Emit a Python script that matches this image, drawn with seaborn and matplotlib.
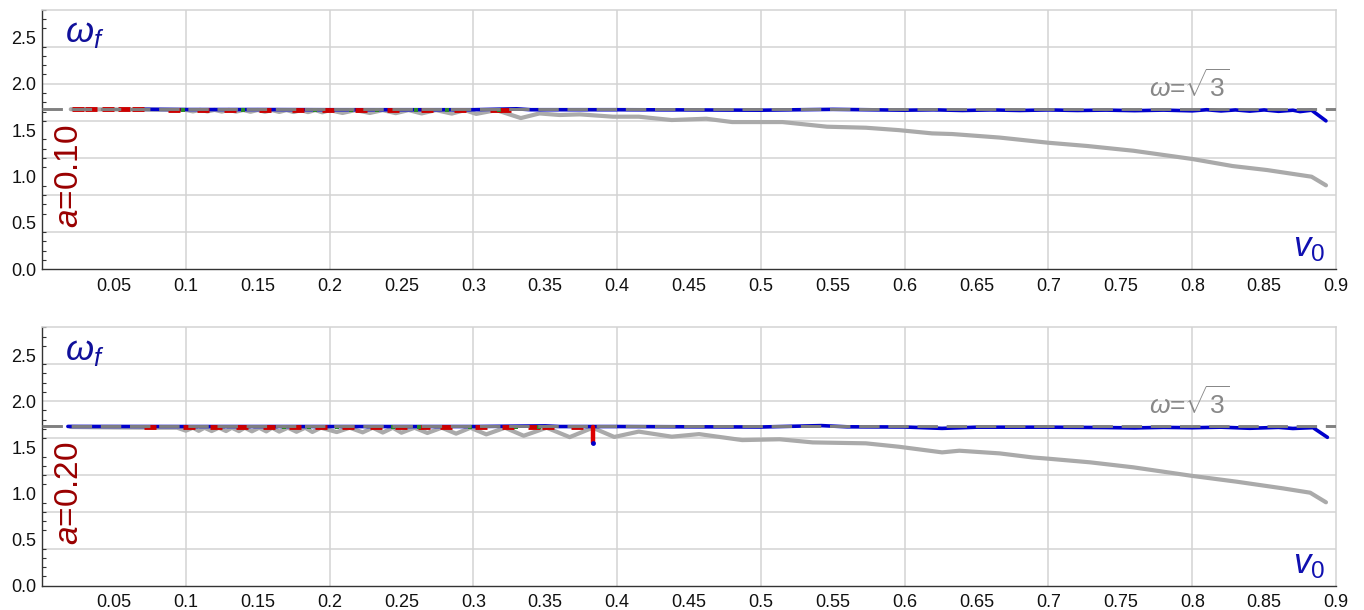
import numpy as np
import pandas as pd
import matplotlib
matplotlib.use("Agg")
import matplotlib.pyplot as plt
from matplotlib.ticker import MultipleLocator
import seaborn as sns

# values
root3 = 1.7320508

# --- a = 0.10 ---
gray_x_1 = [0.020, 0.06, 0.10, 0.105, 0.11, 0.115, 0.12, 0.125, 0.13, 0.135, 0.14, 0.145, 0.15,
            0.155, 0.16, 0.165, 0.17, 0.175, 0.18, 0.185, 0.19, 0.195, 0.200, 0.209, 0.218, 0.228,
            0.237, 0.246, 0.255, 0.264, 0.274, 0.285, 0.294, 0.302, 0.316, 0.333, 0.346, 0.360,
            0.374, 0.397, 0.415, 0.438, 0.462, 0.480, 0.515, 0.546, 0.573, 0.596, 0.619, 0.633,
            0.666, 0.700, 0.727, 0.759, 0.800, 0.828, 0.852, 0.883, 0.893]
gray_y_1 = [1.725, 1.722, 1.718, 1.702, 1.718, 1.702, 1.718, 1.700, 1.718, 1.700, 1.717, 1.698, 1.717,
            1.698, 1.716, 1.696, 1.716, 1.695, 1.716, 1.694, 1.716, 1.692, 1.716, 1.685, 1.716, 1.685,
            1.716, 1.683, 1.716, 1.680, 1.716, 1.678, 1.716, 1.675, 1.716, 1.630, 1.680, 1.663,
            1.670, 1.645, 1.645, 1.609, 1.623, 1.587, 1.587, 1.537, 1.526, 1.500, 1.465, 1.458,
            1.420, 1.364, 1.329, 1.278, 1.189, 1.113, 1.070, 0.998, 0.905]
blue_x_1 = [0.07, 0.10, 0.15, 0.20, 0.25, 0.30, 0.33, 0.34, 0.40, 0.45, 0.50, 0.55, 0.60, 0.62,
            0.64, 0.66, 0.68, 0.70, 0.72, 0.74, 0.76, 0.78, 0.80, 0.81, 0.82, 0.83, 0.84, 0.85,
            0.86, 0.87, 0.875, 0.883, 0.893]
blue_y_1 = [1.725, 1.722, 1.722, 1.720, 1.720, 1.720, 1.730, 1.720, 1.720, 1.718, 1.715, 1.724, 1.715,
            1.719, 1.712, 1.718, 1.712, 1.718, 1.712, 1.716, 1.710, 1.716, 1.708, 1.720, 1.707, 1.718,
            1.705, 1.718, 1.703, 1.715, 1.700, 1.715, 1.600]
red_x_1 = [0.025, 0.034, 0.046, 0.057, 0.067, 0.092, 0.112, 0.131, 0.155, 0.178, 0.199, 0.222,
           0.244, 0.268, 0.291, 0.316, 0.322]
red_y_1 = [1.726, 1.726, 1.726, 1.725, 1.725, 1.722, 1.722, 1.720, 1.720, 1.720, 1.718, 1.718,
           1.718, 1.718, 1.718, 1.718, 1.718]
green_x_1 = [0.098, 0.140, 0.190, 0.215, 0.233, 0.260, 0.282, 0.318]
green_y_1 = [1.722, 1.720, 1.719, 1.719, 1.719, 1.718, 1.718, 1.718]

# --- a = 0.20 ---
gray_x_2 = [0.020, 0.05, 0.08, 0.094, 0.100, 0.105, 0.109, 0.113, 0.118, 0.123, 0.128, 0.132, 0.137,
            0.141, 0.146, 0.151, 0.156, 0.160, 0.165, 0.171, 0.177, 0.183, 0.188, 0.194, 0.205,
            0.214, 0.223, 0.230, 0.237, 0.244, 0.250, 0.259, 0.268, 0.278, 0.288, 0.298, 0.309,
            0.322, 0.335, 0.351, 0.367, 0.383, 0.398, 0.415, 0.438, 0.457, 0.487, 0.513, 0.536,
            0.573, 0.596, 0.626, 0.638, 0.666, 0.689, 0.701, 0.729, 0.759, 0.800, 0.831, 0.863,
            0.882, 0.893]
gray_y_2 = [1.720, 1.715, 1.712, 1.712, 1.680, 1.712, 1.678, 1.712, 1.676, 1.712, 1.676, 1.712, 1.675,
            1.712, 1.673, 1.712, 1.672, 1.712, 1.670, 1.712, 1.668, 1.712, 1.666, 1.712, 1.665,
            1.712, 1.662, 1.712, 1.660, 1.712, 1.658, 1.712, 1.655, 1.712, 1.648, 1.712, 1.640,
            1.712, 1.625, 1.712, 1.610, 1.712, 1.612, 1.670, 1.615, 1.643, 1.578, 1.587, 1.553,
            1.543, 1.506, 1.445, 1.463, 1.434, 1.390, 1.375, 1.337, 1.283, 1.190, 1.127, 1.055,
            1.008, 0.904]
blue_x_2 = [0.018, 0.10, 0.20, 0.30, 0.35, 0.36, 0.40, 0.45, 0.50, 0.542, 0.56, 0.60, 0.626, 0.65,
            0.70, 0.74, 0.76, 0.78, 0.80, 0.82, 0.84, 0.86, 0.87, 0.884, 0.894]
blue_y_2 = [1.726, 1.725, 1.725, 1.725, 1.732, 1.725, 1.725, 1.722, 1.720, 1.735, 1.722, 1.720, 1.705,
            1.718, 1.718, 1.714, 1.710, 1.716, 1.712, 1.718, 1.706, 1.716, 1.704, 1.713, 1.608]
red_x_2 = [0.075, 0.102, 0.121, 0.139, 0.158, 0.176, 0.194, 0.213, 0.232, 0.250, 0.266, 0.281,
           0.305, 0.324, 0.342, 0.352, 0.372]
red_y_2 = [1.722, 1.722, 1.722, 1.722, 1.721, 1.721, 1.721, 1.721, 1.720, 1.720, 1.720, 1.720,
           1.720, 1.718, 1.718, 1.718, 1.718]
green_x_2 = [0.168, 0.186, 0.205, 0.244, 0.262, 0.298, 0.330, 0.346]
green_y_2 = [1.721, 1.721, 1.721, 1.720, 1.720, 1.720, 1.719, 1.719]
spike_x_2 = [0.383, 0.383]
spike_y_2 = [1.720, 1.550]

panels = [
    ("0.10", gray_x_1, gray_y_1, blue_x_1, blue_y_1, red_x_1, red_y_1, green_x_1, green_y_1, None, None),
    ("0.20", gray_x_2, gray_y_2, blue_x_2, blue_y_2, red_x_2, red_y_2, green_x_2, green_y_2, spike_x_2, spike_y_2),
]

x_ticks = [0.05, 0.1, 0.15, 0.2, 0.25, 0.3, 0.35, 0.4, 0.45, 0.5, 0.55, 0.6, 0.65, 0.7, 0.75,
           0.8, 0.85, 0.9]
y_ticks = [0.0, 0.5, 1.0, 1.5, 2.0, 2.5]
grid_x = [0.1, 0.2, 0.3, 0.4, 0.5, 0.6, 0.7, 0.8]
grid_y = [0.4, 0.8, 1.2, 1.6, 2.0, 2.4]

sns.set_theme(style="white")
plt.rcParams['font.family'] = ['Liberation Sans', 'DejaVu Sans']
plt.rcParams['mathtext.fontset'] = 'custom'
plt.rcParams['mathtext.it'] = 'Liberation Sans:italic'
plt.rcParams['mathtext.rm'] = 'Liberation Sans'

fig = plt.figure(figsize=(13.64, 6.10), dpi=100)
rects = [[0.0308, 0.5585, 0.9487, 0.4259], [0.0308, 0.0398, 0.9487, 0.4236]]

for rect, (a_lbl, gx, gy, bx, by, rx, ry, qx, qy, sx, sy) in zip(rects, panels):
    ax = fig.add_axes(rect)
    for g in grid_x:
        ax.axvline(g, color='#d3d3d3', lw=1.1, zorder=0)
    for g in grid_y:
        ax.axhline(g, color='#d3d3d3', lw=1.1, zorder=0)

    sns.lineplot(x=gx, y=gy, ax=ax, color='#aaaaaa', lw=3.0, sort=False, estimator=None, zorder=2)
    sns.lineplot(x=bx, y=by, ax=ax, color='#0000cc', lw=2.6, sort=False, estimator=None, zorder=3)
    sns.scatterplot(x=rx, y=ry, ax=ax, color='#cc0000', marker='_', s=80, linewidth=3.5, zorder=4)
    sns.scatterplot(x=qx, y=qy, ax=ax, color='#2a8a2a', marker='s', s=8, linewidth=0, zorder=4)
    if sx is not None:
        sns.lineplot(x=sx, y=sy, ax=ax, color='#dd0000', lw=3.2, sort=False, estimator=None, zorder=4)
        sns.scatterplot(x=sx[-1:], y=sy[-1:], ax=ax, color='#0000cc', s=12, linewidth=0, zorder=5)
    sns.lineplot(x=[0.0, 0.9], y=[root3, root3], ax=ax, color='#808080', lw=2.1,
                 dashes=False, zorder=5).lines[-1].set_dashes((7, 3))

    ax.set_xlim(0, 0.9)
    ax.set_ylim(0, 2.8)
    ax.set_xticks(x_ticks)
    ax.set_xticklabels([f"{v:g}" for v in x_ticks])
    ax.set_yticks(y_ticks)
    ax.set_yticklabels([f"{v:.1f}" for v in y_ticks])
    ax.yaxis.set_minor_locator(MultipleLocator(0.1))
    ax.tick_params(axis='both', which='major', direction='in', length=5, width=1,
                   color='#333333', labelsize=13, labelcolor='#111111')
    ax.tick_params(axis='y', which='minor', direction='in', length=3, width=0.8,
                   color='#333333', left=True)
    ax.tick_params(axis='x', pad=6)
    ax.tick_params(axis='y', pad=4)
    ax.set_xlabel('')
    ax.set_ylabel('')
    for side in ['left', 'bottom']:
        ax.spines[side].set_color('#333333')
        ax.spines[side].set_linewidth(1.0)
    for side in ['top', 'right']:
        ax.spines[side].set_color('#d3d3d3')
        ax.spines[side].set_linewidth(1.1)

    ax.text(0.016, 2.45, r'$\omega_f$', color='#10109a', fontsize=26, ha='left', va='baseline')
    ax.text(0.870, 0.14, r'$v_0$', color='#1010b0', fontsize=25, ha='left', va='baseline')
    ax.text(0.019, 1.0, r'$a$=' + a_lbl, color='#990000', fontsize=24, rotation=90,
            ha='center', va='center')
    ax.text(0.770, 1.86, r'$\omega$=$\sqrt{3}$', color='#888888', fontsize=19,
            ha='left', va='baseline')

fig.savefig('out.png', dpi=100)
